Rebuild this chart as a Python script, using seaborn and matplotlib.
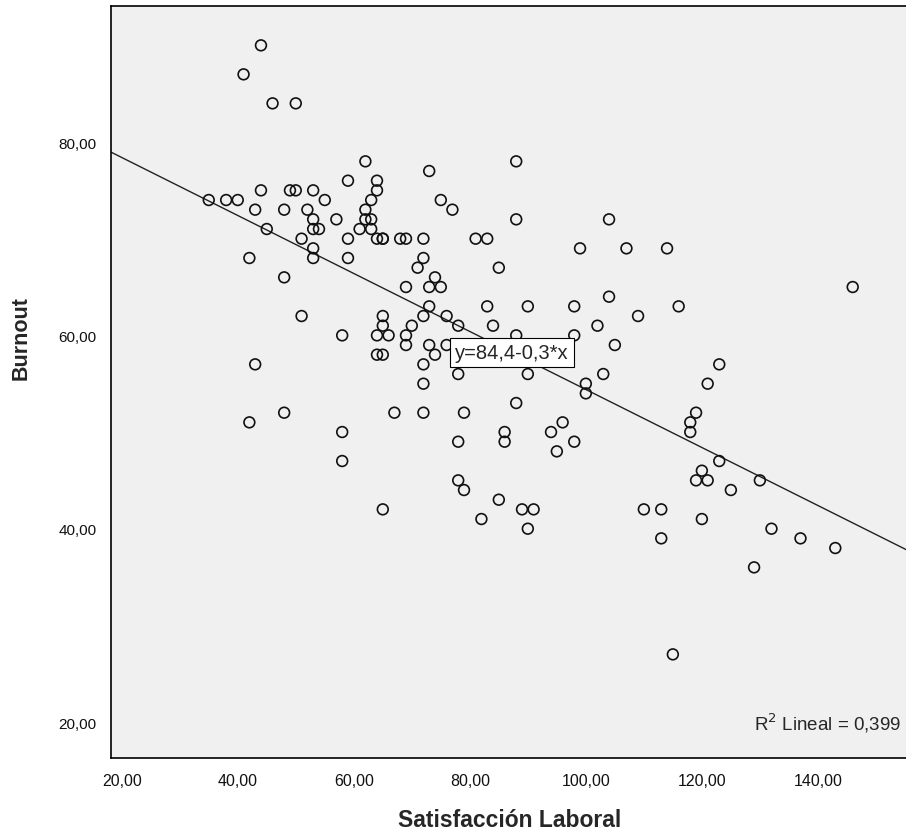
import numpy as np
import pandas as pd
import matplotlib
matplotlib.use("Agg")
import matplotlib.pyplot as plt
from matplotlib.ticker import FuncFormatter
import seaborn as sns

# Data (Satisfaccion Laboral vs Burnout)
satisfaccion = [
    35, 38, 40, 41, 44, 46, 50, 43, 44, 45, 42, 43, 42, 48, 48, 48, 49, 50,
    51, 51, 52, 53, 53, 53, 54, 53, 53, 55, 57, 58, 58, 58, 59, 59, 59,
    61, 62, 62, 62, 63, 63, 63, 64, 64, 64, 65, 65, 65, 65, 64, 66, 64, 65,
    65, 67, 68, 69, 69, 69, 69, 70, 71, 72, 72, 72, 72, 72, 72, 73, 73, 73,
    73, 74, 75, 74, 75, 76, 76, 77, 78, 78, 78, 78, 79, 79,
    81, 83, 82, 83, 84, 85, 85, 86, 86, 88, 88, 88, 88, 89, 90, 90, 90, 91,
    94, 95, 96, 98, 98, 98, 99, 100, 100,
    102, 103, 104, 104, 105, 107, 109, 110, 113, 113, 114, 115, 116, 118,
    118, 119, 119, 120, 120, 121, 121, 123, 123, 125, 129, 130, 132, 137,
    143, 146,
]
burnout = [
    74, 74, 74, 87, 90, 84, 84, 73, 75, 71, 68, 57, 51, 73, 66, 52, 75, 75,
    70, 62, 73, 75, 72, 71, 71, 69, 68, 74, 72, 60, 50, 47, 76, 70, 68,
    71, 78, 73, 72, 72, 74, 71, 76, 75, 70, 70, 62, 61, 58, 58, 60, 60, 42,
    70, 52, 70, 70, 65, 60, 59, 61, 67, 70, 68, 62, 57, 55, 52, 77, 65, 63,
    59, 66, 65, 58, 74, 62, 59, 73, 61, 56, 49, 45, 52, 44,
    70, 70, 41, 63, 61, 67, 43, 50, 49, 78, 72, 60, 53, 42, 63, 56, 40, 42,
    50, 48, 51, 63, 60, 49, 69, 55, 54,
    61, 56, 72, 64, 59, 69, 62, 42, 42, 39, 69, 27, 63, 51,
    50, 52, 45, 46, 41, 55, 45, 57, 47, 44, 36, 45, 40, 39,
    38, 65,
]

# Linear fit shown by SPSS
intercept = 84.4
slope = -0.3
r2_text = "R$^2$ Lineal = 0,399"
eq_text = "y=84,4-0,3*x"

df = pd.DataFrame({"Satisfacción Laboral": satisfaccion, "Burnout": burnout})

sns.set_style("white")
plt.rcParams["font.family"] = ["Liberation Sans", "DejaVu Sans"]

fig = plt.figure(figsize=(9.06, 8.37), dpi=100)
ax = fig.add_axes([111 / 906, 1 - 759 / 837, 1 - 111 / 906 + 0.002, (759 - 7) / 837])
ax.set_facecolor("#f0f0f0")

sns.scatterplot(data=df, x="Satisfacción Laboral", y="Burnout", ax=ax,
                marker="o", s=60, facecolor="none", edgecolor="#111111",
                linewidth=1.2, zorder=3)

ax.set_xlim(18.15, 155.5)
ax.set_ylim(16.28, 94.07)

# regression line
ax.axline((0, intercept), slope=slope, color="#222222", linewidth=1.0, zorder=2)

# equation label on the line
ax.text(77.5, 58.25, eq_text, ha="left", va="center", fontsize=14.5,
        zorder=4,
        bbox=dict(boxstyle="square,pad=0.25", facecolor="white",
                  edgecolor="black", linewidth=0.8))

ax.text(0.992, 0.047, r2_text, transform=ax.transAxes, ha="right",
        va="center", fontsize=13.5)

fmt = FuncFormatter(lambda v, p: f"{v:.2f}".replace(".", ","))
ax.xaxis.set_major_formatter(fmt)
ax.yaxis.set_major_formatter(fmt)
ax.set_xticks([20, 40, 60, 80, 100, 120, 140])
ax.set_yticks([20, 40, 60, 80])
ax.tick_params(axis="both", direction="out", length=7, width=1.2,
               color="#333333", labelsize=11.5, labelcolor="#111111")
ax.tick_params(axis="y", labelsize=11)

for side in ["left", "bottom", "top", "right"]:
    ax.spines[side].set_color("black")
    ax.spines[side].set_linewidth(1.2)

ax.set_xlabel("Satisfacción Laboral", fontsize=16.5, fontweight="bold", labelpad=15)
ax.set_ylabel("Burnout", fontsize=15.5, fontweight="bold")
ax.yaxis.set_label_coords(-0.1, 0.56)

fig.savefig("out.png", dpi=100)
